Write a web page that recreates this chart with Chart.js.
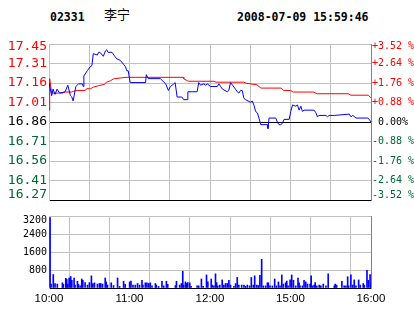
<!DOCTYPE html>
<html><head><meta charset="utf-8">
<script src="https://cdn.jsdelivr.net/npm/chart.js@4.4.0/dist/chart.umd.min.js"></script>
<style>
html,body{margin:0;padding:0;background:#fff;}
#wrap{position:relative;width:414px;height:314px;overflow:hidden;background:#fff;}
canvas{position:absolute;left:0;}
#c1{top:0}
#c2{top:205px}
.hd{position:absolute;top:10px;line-height:13px;font:bold 11.5px "DejaVu Sans Mono",monospace;color:#000;white-space:pre;}
</style></head><body>
<div id="wrap">
<div class="hd" style="left:50px">02331</div>
<div class="hd" style="left:104px;top:7px;font:13px 'Noto Sans CJK SC';line-height:13px">李宁</div>
<div class="hd" style="left:237px">2008-07-09 15:59:46</div>
<canvas id="c1" width="414" height="212"></canvas>
<canvas id="c2" width="414" height="109"></canvas>
</div>
<script>
// ---- data ----
const prevClose = 16.86;
const rangePct = 0.0352;
const priceTicks = ['16.27','16.41','16.56','16.71','16.86','17.01','17.16','17.31','17.45'];
const pctTicks = ['-3.52 %','-2.64 %','-1.76 %','-0.88 %',' 0.00%','+0.88 %','+1.76 %','+2.64 %','+3.52 %'];
const timeTicks = ['10:00','','11:00','','12:00','','15:00','','16:00'];
const volTicks = ['','800','1600','2400','3200'];

const blueMin = [0,2,3,4.5,6,8,12,14,16,17,18,20,22,25,25.5,26,28.5,30.7,32,33,36,37,38,40.5,42,43,44,47,49,50.6,53,55.5,57,58,59,60.5,72,72.5,74,83,84,87,89,90.5,93,94,95.5,99,100.4,103,103.5,110.4,111.6,113,115.4,116.6,118,120.4,125.4,126.6,127.9,129.3,132.9,134,135.3,136.8,139,140.3,141.5,142.8,144,145.3,146.5,150.3,151.5,152.7,154,155.3,156.5,157.8,162.8,163.2,164,169,170.2,171.4,172.7,174,175.2,179,180.2,181.5,184,185.2,186.4,187.7,188.9,190.1,197.6,198.9,200.1,201.3,206.4,207.6,208.8,210.1,212.6,223.8,225,226.5,228.8,237.5,238.7,240];
const bluePrice = [17.16,17.06,17.11,17.07,17.11,17.08,17.09,17.14,17.06,17.05,17.02,17.13,17.15,17.15,17.13,17.21,17.25,17.28,17.29,17.38,17.37,17.39,17.39,17.36,17.40,17.41,17.39,17.39,17.36,17.34,17.33,17.30,17.28,17.25,17.25,17.16,17.16,17.22,17.19,17.19,17.18,17.15,17.10,17.13,17.15,17.16,17.05,17.05,17.03,17.03,17.09,17.09,17.16,17.14,17.15,17.14,17.15,17.13,17.13,17.15,17.13,17.11,17.09,17.10,17.16,17.14,17.11,17.09,17.08,17.10,17.10,17.04,17.03,17.01,17.02,16.99,16.94,16.93,16.89,16.84,16.84,16.81,16.89,16.89,16.86,16.84,16.84,16.85,16.88,16.88,16.94,16.99,16.98,16.99,16.95,16.98,16.94,16.95,16.95,16.93,16.90,16.91,16.91,16.90,16.91,16.91,16.91,16.92,16.90,16.91,16.89,16.89,16.88,16.86];

const redMin = [0,0.5,2,10,12,17,18,21,27,28,31,33,37,41,43,46,48,53,58,100,100.5,103,104,123,124.5,145,147,155,158,173,175,180,182,197,200,223,225,238,240];
const redPrice = [16.95,17.19,17.08,17.08,17.088,17.088,17.093,17.1,17.1,17.113,17.113,17.125,17.137,17.145,17.163,17.175,17.188,17.195,17.2,17.2,17.188,17.175,17.17,17.17,17.163,17.163,17.155,17.143,17.118,17.118,17.1,17.1,17.088,17.088,17.075,17.075,17.064,17.064,17.043];

const volMin = [0.8,1.5,3.2,4.5,6.2,10,10.7,12.5,13.2,14,15,16.2,17,18.7,19.4,21.2,21.9,23.2,24.4,25.2,26.9,28.7,30.1,31.6,32.7,33.9,36.1,37.6,38.6,39.9,41.9,42.6,43.6,46.4,48.1,51.1,52.6,55.6,56.8,60.1,61.1,62.6,
64.3,66,67.5,69.3,70,71.8,73,74.3,75.5,76.8,79.3,80,81.7,84.2,85.5,87.5,88.5,94.2,95,97.4,98.7,99.7,100.4,101.7,102.4,103.4,104.9,105.9,110.4,111.6,113.6,114.9,117.4,118.4,120.9,121.6,122.9,124.1,124.9,125.8,127.3,129.1,130.3,131.6,132.9,134.1,135.3,137.8,139.1,140.3,141.5,143.6,145.3,146.5,147.8,149.5,150.8,152.3,153.3,154.8,156,157.2,158.5,159.8,161.5,162.8,163.5,164.7,166.5,168.2,169.5,171,172.2,
173.5,174.7,176.4,177.2,178.2,179.7,180.9,182.2,183.9,185.6,186.4,187.1,188.9,190.1,191.4,192.7,194.6,195.4,196.4,197.6,198.4,199.6,201.4,202.6,204.4,206.4,208.1,212.6,213.3,214.4,218.3,220,221.3,222.6,223.3,225,226.3,227.5,228.8,230.8,232,234.2,235,237,238,239.3,240];
const volVal = [3130,175,600,200,175,230,160,430,380,175,445,510,340,445,130,300,160,95,400,340,240,130,240,540,200,230,175,200,200,175,445,270,130,230,110,445,70,300,160,270,310,130,
130,200,130,340,130,230,230,200,230,95,200,130,70,300,95,300,160,110,300,130,200,740,130,270,200,240,230,70,95,95,400,70,580,270,400,130,95,630,240,95,130,360,130,200,200,340,130,70,200,470,130,130,130,70,130,95,470,130,540,130,110,565,1275,95,95,230,230,95,95,400,95,270,95,
580,175,230,310,95,360,580,340,95,445,230,95,95,340,270,175,175,540,95,130,240,95,130,95,175,95,630,95,175,130,300,95,95,500,95,580,130,360,95,360,130,200,130,780,340,600,175];

// ---- colours / helpers ----
const RED = '#ff0000', GREEN = '#006633', GRID = '#c0c0c0';
const yMin = prevClose * (1 - rangePct), yMax = prevClose * (1 + rangePct);
const pts = (xs, ys) => xs.map((x, i) => ({x, y: ys[i]}));
function evenTicks(scale, n) {
  const t = [];
  for (let i = 0; i <= n; i++) t.push({value: scale.min + (scale.max - scale.min) * i / n});
  scale.ticks = t;
}
// keep the first / last label inside the plot: nudge via an empty extra line
function edgeLabel(text, i, last) {
  if (i === last) return ['', text];
  if (i === 0) return [text, ''];
  return text;
}
function edgeFont(family, size, shiftTop, shiftBot, last) {
  return ctx => {
    const i = ctx.index;
    let lh = size * 1.2;
    if (i === last) lh = shiftTop * 2;
    else if (i === 0) lh = shiftBot * 2;
    return {family, size, lineHeight: lh + 'px'};
  };
}
const tickColor = ctx => ctx.index > 4 ? RED : (ctx.index === 4 ? '#000' : GREEN);
const xTimeScale = (showLabels) => ({
  type: 'linear', min: 0, max: 240, offset: false,
  afterBuildTicks: s => evenTicks(s, 8),
  grid: {color: GRID, drawTicks: false, lineWidth: 1},
  border: {color: '#000', width: 1},
  ticks: {display: showLabels, padding: 4, maxRotation: 0, autoSkip: false,
    color: '#000', font: {family: 'Liberation Sans', size: 11.5},
    callback: (v, i) => timeTicks[i]},
  afterFit: s => { s.height = showLabels ? 26 : 0; }
});

new Chart(document.getElementById('c1'), {
  type: 'line',
  data: {datasets: [
    {data: pts(blueMin, bluePrice), borderColor: '#0000ff', borderWidth: 1, pointRadius: 0, tension: 0, order: 1},
    {data: pts(redMin, redPrice), borderColor: RED, borderWidth: 1, pointRadius: 0, tension: 0, order: 2}
  ]},
  options: {
    responsive: false, animation: false, devicePixelRatio: 1,
    layout: {padding: {top: 44, bottom: 9, left: 0, right: 0}},
    plugins: {legend: {display: false}, tooltip: {enabled: false}},
    scales: {
      x: xTimeScale(false),
      y: {
        type: 'linear', position: 'left', min: yMin, max: yMax,
        afterBuildTicks: s => evenTicks(s, 8),
        afterFit: s => { s.width = 49; },
        grid: {drawTicks: false, color: ctx => (ctx.index === 4 || ctx.index === 0) ? '#000' : GRID},
        border: {color: GRID},
        ticks: {padding: 2, autoSkip: false, color: tickColor, font: edgeFont('DejaVu Sans Mono', 13, 3, 5, 8),
          callback: (v, i) => edgeLabel(priceTicks[i], i, 8)}
      },
      y2: {
        type: 'linear', position: 'right', min: yMin, max: yMax,
        afterBuildTicks: s => evenTicks(s, 8),
        afterFit: s => { s.width = 43; },
        grid: {display: false, drawTicks: false},
        border: {color: '#808080'},
        ticks: {padding: 1, autoSkip: false, color: tickColor, font: edgeFont('DejaVu Sans Mono', 10, 2, 4.5, 8),
          callback: (v, i) => edgeLabel(pctTicks[i], i, 8)}
      }
    }
  }
});

new Chart(document.getElementById('c2'), {
  type: 'bar',
  data: {datasets: [
    {data: pts(volMin, volVal), backgroundColor: '#0000ff', barThickness: 1, borderWidth: 0}
  ]},
  options: {
    responsive: false, animation: false, devicePixelRatio: 1,
    layout: {padding: {top: 4, bottom: 0, left: 0, right: 0}},
    plugins: {legend: {display: false}, tooltip: {enabled: false}},
    scales: {
      x: xTimeScale(true),
      y: {
        type: 'linear', position: 'left', min: 0, max: 3200,
        afterBuildTicks: s => evenTicks(s, 4),
        afterFit: s => { s.width = 49; },
        grid: {drawTicks: false, color: GRID},
        border: {color: GRID},
        ticks: {padding: 2, autoSkip: false, color: '#000', font: edgeFont('DejaVu Sans Mono', 10, 4.5, 1, 4),
          callback: (v, i) => i === 4 ? ['', volTicks[i]] : volTicks[i]}
      },
      y2: {
        type: 'linear', position: 'right', min: 0, max: 3200,
        afterFit: s => { s.width = 43; },
        grid: {display: false, drawTicks: false},
        border: {color: '#808080'},
        ticks: {display: false}
      }
    }
  }
});
</script>
</body></html>
